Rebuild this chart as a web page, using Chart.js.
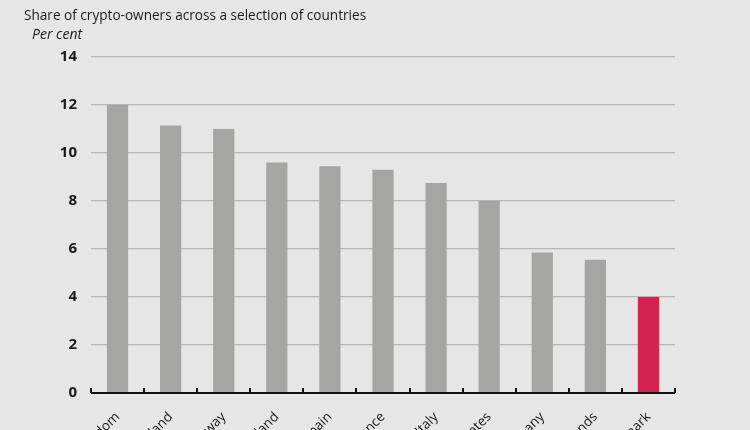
<!DOCTYPE html>
<html>
<head>
<meta charset="utf-8">
<script src="https://cdn.jsdelivr.net/npm/chart.js@4"></script>
<style>
  html, body { margin: 0; padding: 0; background: #e6e6e6; overflow: hidden; }
  #wrap { position: relative; width: 750px; height: 430px; }
</style>
</head>
<body>
<div id="wrap"><canvas id="chart"></canvas></div>
<script>
// === Data ===
const countries = ["United Kingdom", "Switzerland", "Norway", "Finland", "Spain", "France",
    "Italy", "United States", "Germany", "Netherlands", "Denmark"];
const ownerShare = [12.0, 11.15, 11.0, 9.6, 9.45, 9.3, 8.75, 8.0, 5.85, 5.55, 4.0];
const yTicks = [0, 2, 4, 6, 8, 10, 12, 14];

const chartTitle = "Share of crypto-owners across a selection of countries";
const chartUnit = "Per cent";

// === Styling ===
const chartProps = {
    background: "#e6e6e6",
    barGrey: "#a5a6a3",
    barRed: "#d5234f",
    gridColor: "#b6b6b6",
    axisColor: "#111111",
    textColor: "#1a1a1a",
    fontFamily: "'Open Sans', 'Noto Sans', sans-serif"
};

const barColors = countries.map(c => c === "Denmark" ? chartProps.barRed : chartProps.barGrey);

// title + unit text, drawn at the top left
const headerPlugin = {
    id: "header",
    afterDraw(chart) {
        const ctx = chart.ctx;
        ctx.save();
        ctx.fillStyle = chartProps.textColor;
        ctx.textBaseline = "middle";
        ctx.textAlign = "left";
        ctx.font = "13.6px " + chartProps.fontFamily;
        ctx.fillText(chartTitle, 24, 16);
        ctx.font = "italic 14px " + chartProps.fontFamily;
        ctx.fillText(chartUnit, 32, 35);
        ctx.restore();
    }
};

// black baseline with small upward ticks between categories
const baselinePlugin = {
    id: "baseline",
    afterDatasetsDraw(chart) {
        const { ctx, chartArea, scales } = chart;
        const x = scales.x;
        const y0 = scales.y.getPixelForValue(0);
        const half = (x.getPixelForValue(1) - x.getPixelForValue(0)) / 2;
        ctx.save();
        ctx.strokeStyle = chartProps.axisColor;
        ctx.lineWidth = 2;
        ctx.beginPath();
        ctx.moveTo(chartArea.left, y0);
        ctx.lineTo(chartArea.right, y0);
        for (let i = 0; i <= countries.length; i++) {
            const px = Math.round(x.getPixelForValue(i) - half);
            ctx.moveTo(px, y0);
            ctx.lineTo(px, y0 - 5);
        }
        ctx.stroke();
        ctx.restore();
    }
};

new Chart(document.getElementById("chart"), {
    type: "bar",
    data: {
        labels: countries,
        datasets: [{
            data: ownerShare,
            backgroundColor: barColors,
            borderWidth: 0,
            categoryPercentage: 1,
            barPercentage: 0.4
        }]
    },
    options: {
        responsive: true,
        maintainAspectRatio: false,
        animation: false,
        layout: { padding: { top: 57, right: 75, bottom: 0, left: 0 } },
        scales: {
            x: {
                grid: { display: false },
                border: { display: false },
                ticks: {
                    minRotation: 45,
                    maxRotation: 45,
                    autoSkip: false,
                    padding: 8,
                    color: chartProps.textColor,
                    font: { family: chartProps.fontFamily, size: 13.5 }
                },
                afterFit: s => { s.height = 37; }
            },
            y: {
                min: 0,
                max: 14,
                afterBuildTicks: s => { s.ticks = yTicks.map(v => ({ value: v })); },
                grid: {
                    color: chartProps.gridColor,
                    lineWidth: 1.3,
                    drawTicks: false
                },
                border: { display: false },
                ticks: {
                    padding: 14,
                    color: chartProps.textColor,
                    font: { family: chartProps.fontFamily, size: 15, weight: "bold" }
                },
                afterFit: s => { s.width = 91; }
            }
        },
        plugins: {
            legend: { display: false },
            tooltip: { enabled: false }
        }
    },
    plugins: [headerPlugin, baselinePlugin]
});
</script>
</body>
</html>
